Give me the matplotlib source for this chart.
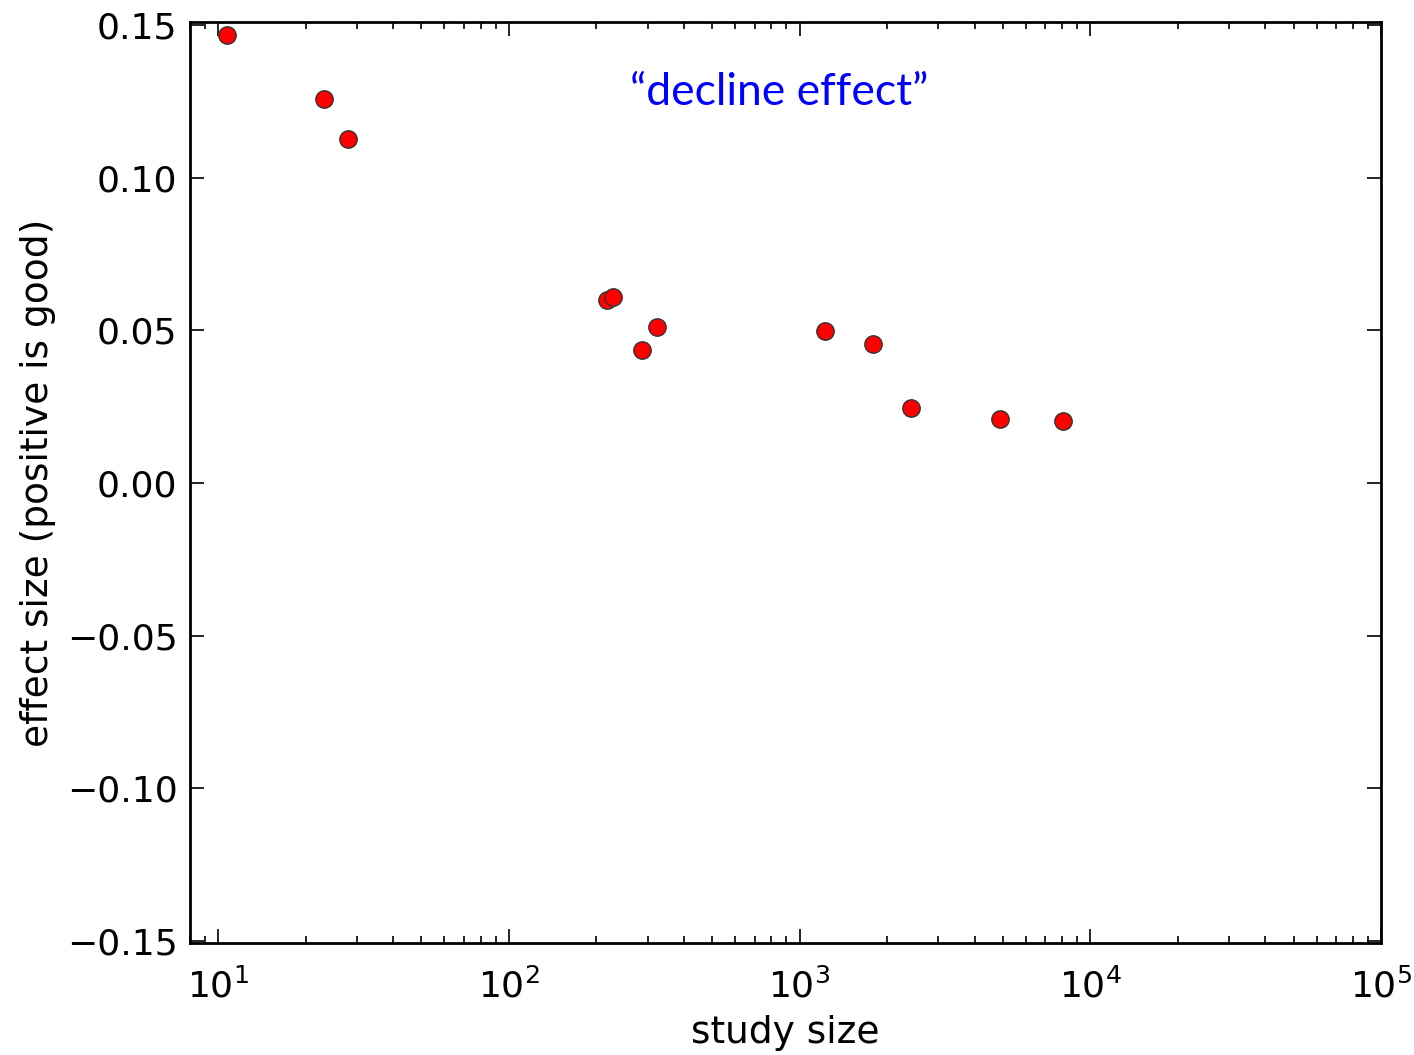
import matplotlib
matplotlib.use("Agg")
import matplotlib.pyplot as plt

study_size = [10.7, 23.2, 27.9, 218, 228, 288, 324, 1219, 1786, 2416, 4898, 8074]
effect_size = [0.1468, 0.1258, 0.1127, 0.0600, 0.0609, 0.0436, 0.0511,
               0.0498, 0.0455, 0.0246, 0.0210, 0.0203]
y_ticks = [-0.15, -0.10, -0.05, 0.00, 0.05, 0.10, 0.15]
y_ticklabels = ["\u22120.15", "\u22120.10", "\u22120.05", "0.00", "0.05", "0.10", "0.15"]

plt.rcParams['font.family'] = ['DejaVu Sans']
fig = plt.figure(figsize=(14.14, 10.55), dpi=100)
ax = fig.add_axes([0.1344, 0.1062, 0.9767 - 0.1344, 0.9791 - 0.1062])

ax.plot(study_size, effect_size, 'o', markersize=12.5, markerfacecolor='red',
        markeredgecolor='#333333', markeredgewidth=1.0, linestyle='none')
ax.set_xscale('log')
ax.set_xlim(8, 1e5)
ax.set_ylim(-0.1506, 0.151)
ax.set_yticks(y_ticks)
ax.set_yticklabels(y_ticklabels)

ax.tick_params(which='both', direction='in', top=True, right=True, labelsize=26,
               width=1.2, color='black')
ax.tick_params(which='major', length=10)
ax.tick_params(axis='y', which='major', pad=9)
ax.tick_params(axis='x', which='major', pad=18)
ax.tick_params(which='minor', length=5)
for s in ax.spines.values():
    s.set_linewidth(2.0)

ax.set_xlabel('study size', fontsize=27, labelpad=8)
ax.set_ylabel('effect size (positive is good)', fontsize=27, labelpad=8)

ax.text(853, 0.128, '\u201cdecline effect\u201d', color='#0000ff', fontsize=32,
        family=['Lato', 'DejaVu Sans'], ha='center', va='center')

fig.savefig('out.png', dpi=100, facecolor='white')
